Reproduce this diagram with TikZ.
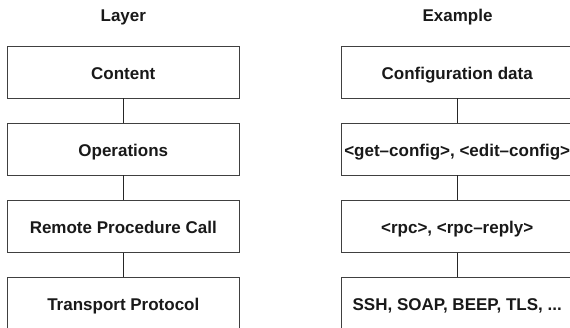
\documentclass[tikz,border=0pt]{standalone}
\usepackage{fontspec}
\setmainfont{Liberation Sans}
\begin{document}
\begin{tikzpicture}[x=1pt,y=-1pt,
  layerbox/.style={draw=black!75,line width=0.9pt,minimum width=231.7pt,minimum height=52pt,inner sep=0pt,text height=14pt,text depth=0pt,font=\fontsize{17}{20}\selectfont\bfseries,text=black!90},
  header/.style={font=\fontsize{17}{20}\selectfont\bfseries,text=black!90,inner sep=0pt,anchor=base},
  link/.style={draw=black!85,line width=0.9pt}]
\useasboundingbox (0,0) rectangle (570,327);
\clip (0,0) rectangle (570,327);
\node[header] (hl) at (123.3,21.3) {Layer};
\node[header] (hr) at (457.5,21.3) {Example};
\node[layerbox] (l1) at (123.3,72) {Content};
\node[layerbox] (l2) at (123.3,149) {Operations};
\node[layerbox] (l3) at (123.3,226.2) {Remote Procedure Call};
\node[layerbox] (l4) at (123.3,303.4) {Transport Protocol};
\node[layerbox] (r1) at (457.2,72) {Configuration data};
\node[layerbox] (r2) at (457.2,149) {<get–config>, <edit–config>};
\node[layerbox] (r3) at (457.2,226.2) {<rpc>, <rpc–reply>};
\node[layerbox] (r4) at (457.2,303.4) {SSH, SOAP, BEEP, TLS, ...};
\draw[link] (l1) -- (l2);
\draw[link] (l2) -- (l3);
\draw[link] (l3) -- (l4);
\draw[link] (r1) -- (r2);
\draw[link] (r2) -- (r3);
\draw[link] (r3) -- (r4);
\end{tikzpicture}
\end{document}
